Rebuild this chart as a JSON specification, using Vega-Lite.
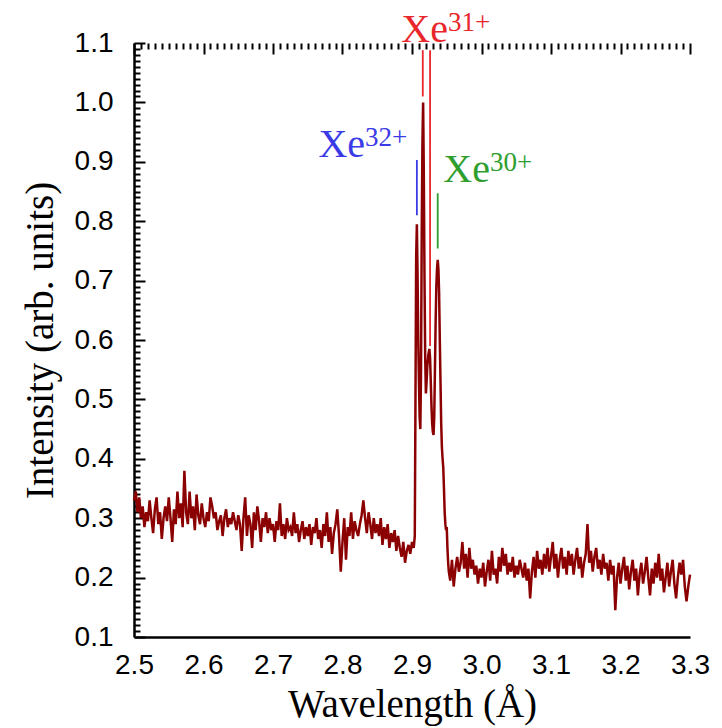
{
"$schema": "https://vega.github.io/schema/vega-lite/v6.json",
"width": 556,
"height": 594,
"autosize": "none",
"padding": {"left": 134, "top": 43, "right": 32, "bottom": 91},
"background": "white",
"config": {
  "view": {"stroke": null},
  "axis": {
    "labelFont": "Liberation Sans",
    "labelFontSize": 28,
    "labelColor": "black",
    "titleFont": "Liberation Serif",
    "titleFontSize": 39,
    "titleFontWeight": "normal",
    "titleColor": "black",
    "domainColor": "black",
    "domainWidth": 2.5,
    "tickColor": "black"
  }
},
"datasets": {
  "spectrumData": [
    {"wl":2.5,"intensity":0.33},{"wl":2.5025,"intensity":0.345},{"wl":2.505,"intensity":0.31},{"wl":2.5075,"intensity":0.335},{"wl":2.51,"intensity":0.30},{"wl":2.5125,"intensity":0.32},{"wl":2.515,"intensity":0.285},{"wl":2.5175,"intensity":0.31},{"wl":2.52,"intensity":0.295},{"wl":2.5225,"intensity":0.33},
    {"wl":2.525,"intensity":0.30},{"wl":2.5275,"intensity":0.275},{"wl":2.53,"intensity":0.315},{"wl":2.5325,"intensity":0.335},{"wl":2.535,"intensity":0.29},{"wl":2.5375,"intensity":0.31},{"wl":2.54,"intensity":0.265},{"wl":2.5425,"intensity":0.30},{"wl":2.545,"intensity":0.32},{"wl":2.5475,"intensity":0.295},
    {"wl":2.55,"intensity":0.335},{"wl":2.5525,"intensity":0.30},{"wl":2.555,"intensity":0.26},{"wl":2.5575,"intensity":0.315},{"wl":2.56,"intensity":0.29},{"wl":2.5625,"intensity":0.345},{"wl":2.565,"intensity":0.30},{"wl":2.5675,"intensity":0.325},{"wl":2.57,"intensity":0.285},{"wl":2.5725,"intensity":0.38},
    {"wl":2.575,"intensity":0.31},{"wl":2.5775,"intensity":0.29},{"wl":2.58,"intensity":0.345},{"wl":2.5825,"intensity":0.30},{"wl":2.585,"intensity":0.32},{"wl":2.5875,"intensity":0.28},{"wl":2.59,"intensity":0.34},{"wl":2.5925,"intensity":0.305},{"wl":2.595,"intensity":0.29},{"wl":2.5975,"intensity":0.325},
    {"wl":2.6,"intensity":0.30},{"wl":2.6025,"intensity":0.285},{"wl":2.605,"intensity":0.31},{"wl":2.6075,"intensity":0.295},{"wl":2.61,"intensity":0.335},{"wl":2.6125,"intensity":0.32},{"wl":2.615,"intensity":0.30},{"wl":2.6175,"intensity":0.31},{"wl":2.62,"intensity":0.28},{"wl":2.6225,"intensity":0.295},
    {"wl":2.625,"intensity":0.305},{"wl":2.6275,"intensity":0.27},{"wl":2.63,"intensity":0.30},{"wl":2.6325,"intensity":0.315},{"wl":2.635,"intensity":0.285},{"wl":2.6375,"intensity":0.30},{"wl":2.64,"intensity":0.29},{"wl":2.6425,"intensity":0.31},{"wl":2.645,"intensity":0.295},{"wl":2.6475,"intensity":0.28},
    {"wl":2.65,"intensity":0.305},{"wl":2.6525,"intensity":0.29},{"wl":2.655,"intensity":0.245},{"wl":2.6575,"intensity":0.30},{"wl":2.66,"intensity":0.335},{"wl":2.6625,"intensity":0.27},{"wl":2.665,"intensity":0.305},{"wl":2.6675,"intensity":0.29},{"wl":2.67,"intensity":0.25},{"wl":2.6725,"intensity":0.31},
    {"wl":2.675,"intensity":0.28},{"wl":2.6775,"intensity":0.32},{"wl":2.68,"intensity":0.295},{"wl":2.6825,"intensity":0.26},{"wl":2.685,"intensity":0.30},{"wl":2.6875,"intensity":0.285},{"wl":2.69,"intensity":0.31},{"wl":2.6925,"intensity":0.275},{"wl":2.695,"intensity":0.30},{"wl":2.6975,"intensity":0.28},
    {"wl":2.7,"intensity":0.29},{"wl":2.7025,"intensity":0.26},{"wl":2.705,"intensity":0.295},{"wl":2.7075,"intensity":0.28},{"wl":2.71,"intensity":0.325},{"wl":2.7125,"intensity":0.27},{"wl":2.715,"intensity":0.29},{"wl":2.7175,"intensity":0.265},{"wl":2.72,"intensity":0.30},{"wl":2.7225,"intensity":0.28},
    {"wl":2.725,"intensity":0.285},{"wl":2.7275,"intensity":0.27},{"wl":2.73,"intensity":0.31},{"wl":2.7325,"intensity":0.275},{"wl":2.735,"intensity":0.29},{"wl":2.7375,"intensity":0.26},{"wl":2.74,"intensity":0.28},{"wl":2.7425,"intensity":0.295},{"wl":2.745,"intensity":0.265},{"wl":2.7475,"intensity":0.285},
    {"wl":2.75,"intensity":0.27},{"wl":2.7525,"intensity":0.29},{"wl":2.755,"intensity":0.255},{"wl":2.7575,"intensity":0.285},{"wl":2.76,"intensity":0.275},{"wl":2.7625,"intensity":0.30},{"wl":2.765,"intensity":0.265},{"wl":2.7675,"intensity":0.28},{"wl":2.77,"intensity":0.25},{"wl":2.7725,"intensity":0.29},
    {"wl":2.775,"intensity":0.27},{"wl":2.7775,"intensity":0.31},{"wl":2.78,"intensity":0.26},{"wl":2.7825,"intensity":0.285},{"wl":2.785,"intensity":0.24},{"wl":2.7875,"intensity":0.275},{"wl":2.79,"intensity":0.29},{"wl":2.7925,"intensity":0.315},{"wl":2.795,"intensity":0.27},{"wl":2.7975,"intensity":0.21},
    {"wl":2.8,"intensity":0.26},{"wl":2.8025,"intensity":0.30},{"wl":2.805,"intensity":0.23},{"wl":2.8075,"intensity":0.285},{"wl":2.81,"intensity":0.27},{"wl":2.8125,"intensity":0.31},{"wl":2.815,"intensity":0.265},{"wl":2.8175,"intensity":0.295},{"wl":2.82,"intensity":0.28},{"wl":2.8225,"intensity":0.27},
    {"wl":2.825,"intensity":0.29},{"wl":2.8275,"intensity":0.305},{"wl":2.83,"intensity":0.33},{"wl":2.8325,"intensity":0.30},{"wl":2.835,"intensity":0.275},{"wl":2.8375,"intensity":0.31},{"wl":2.84,"intensity":0.29},{"wl":2.8425,"intensity":0.265},{"wl":2.845,"intensity":0.30},{"wl":2.8475,"intensity":0.275},
    {"wl":2.85,"intensity":0.29},{"wl":2.8525,"intensity":0.27},{"wl":2.855,"intensity":0.30},{"wl":2.8575,"intensity":0.255},{"wl":2.86,"intensity":0.285},{"wl":2.8625,"intensity":0.265},{"wl":2.865,"intensity":0.29},{"wl":2.8675,"intensity":0.25},{"wl":2.87,"intensity":0.275},{"wl":2.8725,"intensity":0.26},
    {"wl":2.875,"intensity":0.28},{"wl":2.8775,"intensity":0.245},{"wl":2.88,"intensity":0.27},{"wl":2.8825,"intensity":0.25},{"wl":2.885,"intensity":0.235},{"wl":2.8875,"intensity":0.26},{"wl":2.89,"intensity":0.225},{"wl":2.8925,"intensity":0.245},{"wl":2.895,"intensity":0.255},{"wl":2.8975,"intensity":0.24},
    {"wl":2.9,"intensity":0.26},{"wl":2.9025,"intensity":0.25},
    {"wl":2.904,"intensity":0.27},{"wl":2.905,"intensity":0.50},{"wl":2.906,"intensity":0.74},{"wl":2.907,"intensity":0.795},{"wl":2.908,"intensity":0.71},{"wl":2.909,"intensity":0.60},{"wl":2.91,"intensity":0.53},{"wl":2.911,"intensity":0.47},{"wl":2.912,"intensity":0.45},{"wl":2.913,"intensity":0.55},
    {"wl":2.914,"intensity":0.78},{"wl":2.915,"intensity":0.93},{"wl":2.916,"intensity":1.0},{"wl":2.917,"intensity":0.88},{"wl":2.918,"intensity":0.70},{"wl":2.919,"intensity":0.57},{"wl":2.92,"intensity":0.51},{"wl":2.921,"intensity":0.53},{"wl":2.922,"intensity":0.555},{"wl":2.9235,"intensity":0.575},
    {"wl":2.925,"intensity":0.585},{"wl":2.926,"intensity":0.57},{"wl":2.927,"intensity":0.53},{"wl":2.928,"intensity":0.49},{"wl":2.929,"intensity":0.46},{"wl":2.93,"intensity":0.445},{"wl":2.931,"intensity":0.44},{"wl":2.932,"intensity":0.47},{"wl":2.933,"intensity":0.55},{"wl":2.934,"intensity":0.63},
    {"wl":2.935,"intensity":0.69},{"wl":2.936,"intensity":0.72},{"wl":2.937,"intensity":0.735},{"wl":2.938,"intensity":0.72},{"wl":2.939,"intensity":0.68},{"wl":2.94,"intensity":0.60},{"wl":2.941,"intensity":0.53},{"wl":2.942,"intensity":0.46},{"wl":2.943,"intensity":0.42},{"wl":2.944,"intensity":0.40},
    {"wl":2.945,"intensity":0.385},{"wl":2.946,"intensity":0.35},{"wl":2.947,"intensity":0.31},{"wl":2.948,"intensity":0.29},{"wl":2.949,"intensity":0.28},{"wl":2.95,"intensity":0.285},{"wl":2.951,"intensity":0.25},{"wl":2.952,"intensity":0.225},{"wl":2.953,"intensity":0.21},
    {"wl":2.955,"intensity":0.195},{"wl":2.9575,"intensity":0.23},{"wl":2.96,"intensity":0.185},{"wl":2.9625,"intensity":0.215},{"wl":2.965,"intensity":0.235},{"wl":2.9675,"intensity":0.21},{"wl":2.97,"intensity":0.225},{"wl":2.9725,"intensity":0.26},{"wl":2.975,"intensity":0.215},{"wl":2.9775,"intensity":0.24},
    {"wl":2.98,"intensity":0.20},{"wl":2.9825,"intensity":0.25},{"wl":2.985,"intensity":0.215},{"wl":2.9875,"intensity":0.23},{"wl":2.99,"intensity":0.205},{"wl":2.9925,"intensity":0.22},{"wl":2.995,"intensity":0.19},{"wl":2.9975,"intensity":0.215},
    {"wl":3.0,"intensity":0.20},{"wl":3.0025,"intensity":0.225},{"wl":3.005,"intensity":0.185},{"wl":3.0075,"intensity":0.21},{"wl":3.01,"intensity":0.23},{"wl":3.0125,"intensity":0.195},{"wl":3.015,"intensity":0.245},{"wl":3.0175,"intensity":0.205},{"wl":3.02,"intensity":0.215},{"wl":3.0225,"intensity":0.19},
    {"wl":3.025,"intensity":0.235},{"wl":3.0275,"intensity":0.21},{"wl":3.03,"intensity":0.25},{"wl":3.0325,"intensity":0.22},{"wl":3.035,"intensity":0.24},{"wl":3.0375,"intensity":0.205},{"wl":3.04,"intensity":0.225},{"wl":3.0425,"intensity":0.21},{"wl":3.045,"intensity":0.235},{"wl":3.0475,"intensity":0.20},
    {"wl":3.05,"intensity":0.22},{"wl":3.0525,"intensity":0.205},{"wl":3.055,"intensity":0.23},{"wl":3.0575,"intensity":0.215},{"wl":3.06,"intensity":0.20},{"wl":3.0625,"intensity":0.225},{"wl":3.065,"intensity":0.195},{"wl":3.0675,"intensity":0.215},{"wl":3.07,"intensity":0.165},{"wl":3.0725,"intensity":0.21},
    {"wl":3.075,"intensity":0.235},{"wl":3.0775,"intensity":0.20},{"wl":3.08,"intensity":0.245},{"wl":3.0825,"intensity":0.215},{"wl":3.085,"intensity":0.23},{"wl":3.0875,"intensity":0.205},{"wl":3.09,"intensity":0.24},{"wl":3.0925,"intensity":0.215},{"wl":3.095,"intensity":0.25},{"wl":3.0975,"intensity":0.21},
    {"wl":3.1,"intensity":0.235},{"wl":3.1025,"intensity":0.26},{"wl":3.105,"intensity":0.215},{"wl":3.1075,"intensity":0.24},{"wl":3.11,"intensity":0.20},{"wl":3.1125,"intensity":0.23},{"wl":3.115,"intensity":0.25},{"wl":3.1175,"intensity":0.215},{"wl":3.12,"intensity":0.235},{"wl":3.1225,"intensity":0.205},
    {"wl":3.125,"intensity":0.245},{"wl":3.1275,"intensity":0.22},{"wl":3.13,"intensity":0.24},{"wl":3.1325,"intensity":0.205},{"wl":3.135,"intensity":0.23},{"wl":3.1375,"intensity":0.25},{"wl":3.14,"intensity":0.215},{"wl":3.1425,"intensity":0.235},{"wl":3.145,"intensity":0.20},{"wl":3.1475,"intensity":0.225},
    {"wl":3.15,"intensity":0.24},{"wl":3.1525,"intensity":0.29},{"wl":3.155,"intensity":0.225},{"wl":3.1575,"intensity":0.245},{"wl":3.16,"intensity":0.21},{"wl":3.1625,"intensity":0.235},{"wl":3.165,"intensity":0.25},{"wl":3.1675,"intensity":0.215},{"wl":3.17,"intensity":0.23},{"wl":3.1725,"intensity":0.205},
    {"wl":3.175,"intensity":0.24},{"wl":3.1775,"intensity":0.215},{"wl":3.18,"intensity":0.225},{"wl":3.1825,"intensity":0.195},{"wl":3.185,"intensity":0.23},{"wl":3.1875,"intensity":0.205},{"wl":3.19,"intensity":0.22},{"wl":3.1925,"intensity":0.145},{"wl":3.195,"intensity":0.20},{"wl":3.1975,"intensity":0.225},
    {"wl":3.2,"intensity":0.19},{"wl":3.2025,"intensity":0.215},{"wl":3.205,"intensity":0.235},{"wl":3.2075,"intensity":0.195},{"wl":3.21,"intensity":0.22},{"wl":3.2125,"intensity":0.18},{"wl":3.215,"intensity":0.21},{"wl":3.2175,"intensity":0.23},{"wl":3.22,"intensity":0.195},{"wl":3.2225,"intensity":0.215},
    {"wl":3.225,"intensity":0.17},{"wl":3.2275,"intensity":0.205},{"wl":3.23,"intensity":0.225},{"wl":3.2325,"intensity":0.19},{"wl":3.235,"intensity":0.21},{"wl":3.2375,"intensity":0.235},{"wl":3.24,"intensity":0.20},{"wl":3.2425,"intensity":0.17},{"wl":3.245,"intensity":0.215},{"wl":3.2475,"intensity":0.19},
    {"wl":3.25,"intensity":0.225},{"wl":3.2525,"intensity":0.20},{"wl":3.255,"intensity":0.24},{"wl":3.2575,"intensity":0.195},{"wl":3.26,"intensity":0.215},{"wl":3.2625,"intensity":0.175},{"wl":3.265,"intensity":0.20},{"wl":3.2675,"intensity":0.225},{"wl":3.27,"intensity":0.185},{"wl":3.2725,"intensity":0.21},
    {"wl":3.275,"intensity":0.23},{"wl":3.2775,"intensity":0.19},{"wl":3.28,"intensity":0.165},{"wl":3.2825,"intensity":0.20},{"wl":3.285,"intensity":0.225},{"wl":3.2875,"intensity":0.205},{"wl":3.29,"intensity":0.23},{"wl":3.2925,"intensity":0.185},{"wl":3.295,"intensity":0.16},{"wl":3.2975,"intensity":0.185},
    {"wl":3.3,"intensity":0.205}
  ],
  "ionLines": [
    {"ion":"Xe32+","wl":2.907,"from":0.81,"to":0.903},
    {"ion":"Xe31+","wl":2.9155,"from":1.01,"to":1.088},
    {"ion":"Xe31+","wl":2.926,"from":0.59,"to":1.088},
    {"ion":"Xe30+","wl":2.937,"from":0.754,"to":0.847}
  ],
  "ionLabels": [
    {"ion":"Xe31+","element":"Xe","charge":"31+","wl":2.9518,"base":1.102,"sup":1.121},
    {"ion":"Xe32+","element":"Xe","charge":"32+","wl":2.8324,"base":0.908,"sup":0.927},
    {"ion":"Xe30+","element":"Xe","charge":"30+","wl":3.0122,"base":0.866,"sup":0.885}
  ]
},
"layer": [
  {
    "data": {"name": "spectrumData"},
    "mark": {"type": "line", "color": "#8b0000", "strokeWidth": 2.5},
    "encoding": {
      "x": {"field": "wl", "type": "quantitative", "scale": {"domain": [2.5, 3.3], "nice": false, "zero": false},
            "axis": {"orient": "bottom", "tickCount": 80,
                     "labelExpr": "abs(datum.value * 10 - round(datum.value * 10)) < 0.001 ? format(datum.value, '.1f') : ''",
                     "ticks": false,
                     "grid": true, "gridColor": "black", "gridWidth": 2, "gridOpacity": 1,
                     "gridDash": {"condition": {"test": "abs(datum.value * 10 - round(datum.value * 10)) < 0.001", "value": [11, 2000]}, "value": [6, 2000]},
                     "labelPadding": 14, "labelFlush": false, "labelOverlap": false, "title": "Wavelength (Å)", "titlePadding": 6}},
      "y": {"field": "intensity", "type": "quantitative", "scale": {"domain": [0.1, 1.1], "nice": false, "zero": false},
            "axis": {"orient": "left", "tickCount": 100,
                     "labelExpr": "abs(datum.value * 10 - round(datum.value * 10)) < 0.001 ? format(datum.value, '.1f') : ''",
                     "ticks": false,
                     "grid": true, "gridColor": "black", "gridWidth": 2, "gridOpacity": 1,
                     "gridDash": {"condition": {"test": "abs(datum.value * 10 - round(datum.value * 10)) < 0.001", "value": [11, 2000]}, "value": [6, 2000]},
                     "labelPadding": 21, "labelFlush": false, "labelOverlap": false, "title": "Intensity (arb. units)", "titlePadding": 14}}
    }
  },
  {
    "data": {"name": "ionLines"},
    "mark": {"type": "rule", "strokeWidth": 1.8},
    "encoding": {
      "x": {"field": "wl", "type": "quantitative"},
      "y": {"field": "from", "type": "quantitative"},
      "y2": {"field": "to"},
      "color": {"field": "ion", "type": "nominal", "scale": {"domain": ["Xe32+", "Xe31+", "Xe30+"], "range": ["#3a3ae6", "#e8262b", "#2e9e2e"]}, "legend": null}
    }
  },
  {
    "data": {"name": "ionLabels"},
    "mark": {"type": "text", "align": "right", "baseline": "alphabetic", "font": "Liberation Serif", "fontSize": 40},
    "encoding": {
      "x": {"field": "wl", "type": "quantitative"},
      "y": {"field": "base", "type": "quantitative"},
      "text": {"field": "element"},
      "color": {"field": "ion", "type": "nominal", "legend": null}
    }
  },
  {
    "data": {"name": "ionLabels"},
    "mark": {"type": "text", "align": "left", "baseline": "alphabetic", "font": "Liberation Serif", "fontSize": 27},
    "encoding": {
      "x": {"field": "wl", "type": "quantitative"},
      "y": {"field": "sup", "type": "quantitative"},
      "text": {"field": "charge"},
      "color": {"field": "ion", "type": "nominal", "legend": null}
    }
  }
]
}
